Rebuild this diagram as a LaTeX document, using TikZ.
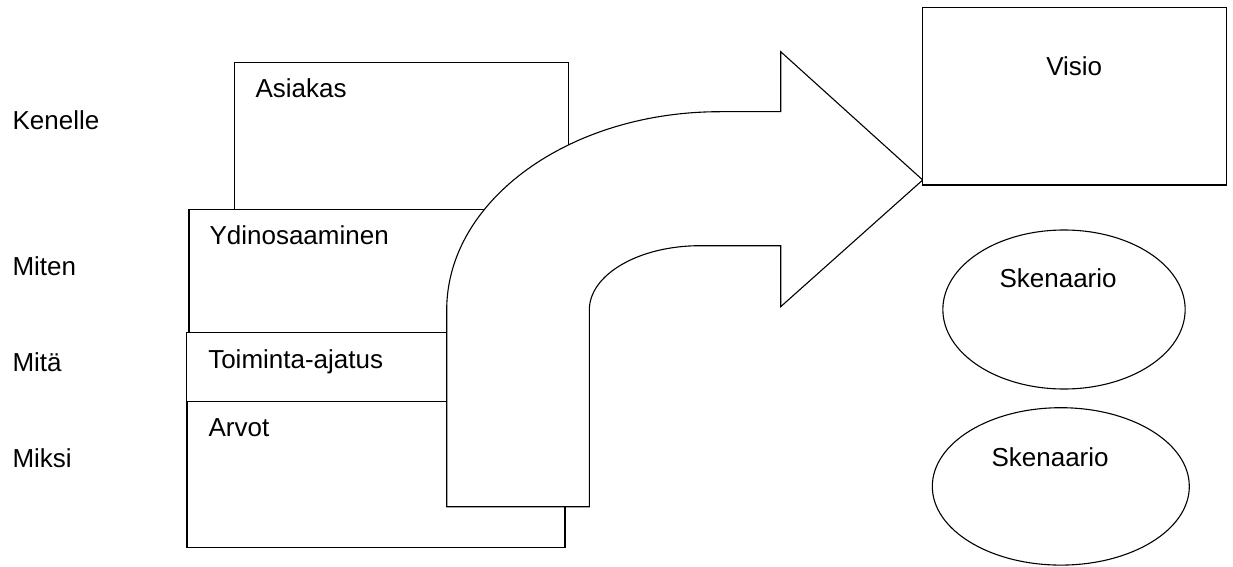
\documentclass[tikz,border=0pt]{standalone}
\usepackage{fontspec}
\setmainfont{Liberation Sans}
\usetikzlibrary{shapes.geometric}

\begin{document}
\begin{tikzpicture}[
x=1pt, y=-1pt,
line width=1.1pt,
lbl/.style={anchor=base west, inner sep=0pt, font=\fontsize{26}{31}\selectfont},
box/.style={draw, fill=white, anchor=north west, inner sep=0pt, outer sep=0pt},
oval/.style={draw, ellipse, inner sep=0pt},
]
\useasboundingbox (0,0) rectangle (1233,567);

\node[lbl] (kenelle) at (12,129) {Kenelle};
\node[lbl] (miten) at (12,275) {Miten};
\node[lbl] (mita) at (12,371) {Mitä};
\node[lbl] (miksi) at (12,467) {Miksi};

\node[box, minimum width=334pt, minimum height=146.6pt] (asiakasbox) at (234.3,62.7) {};
\node[box, minimum width=376pt, minimum height=123pt] (ydinbox) at (189,209.3) {};
\node[box, minimum width=378.3pt, minimum height=69.4pt] (toimintabox) at (186.7,332.3) {};
\node[box, minimum width=378pt, minimum height=146pt] (arvotbox) at (187,401.7) {};

\node[lbl] (asiakas) at (255,98) {Asiakas};
\node[lbl] (ydin) at (209,244) {Ydinosaaminen};
\node[lbl] (toiminta) at (207.7,368) {Toiminta-ajatus};
\node[lbl] (arvot) at (208,436.7) {Arvot};

\draw[fill=white] (446.7,506.7) -- (446.7,310)
.. controls (446.7,200.5) and (569,111.7) .. (720,111.7)
-- (780.7,111.7) -- (780.7,51.7) -- (922.7,180) -- (780.7,306.7)
-- (780.7,245.7) -- (700,245.7)
.. controls (638.9,245.7) and (589.3,274.5) .. (589.3,310)
-- (589.3,506.7) -- cycle;

\node[box, minimum width=304.4pt, minimum height=177.7pt] (visiobox) at (922.3,7.3) {};
\node[lbl] (visio) at (1045.7,76) {Visio};

\node[oval, minimum width=242.3pt, minimum height=159pt] (skenaario1) at (1064,309.5) {};
\node[oval, minimum width=257pt, minimum height=157.4pt] (skenaario2) at (1060.8,486.4) {};
\node[lbl] (sken1) at (999,287) {Skenaario};
\node[lbl] (sken2) at (991,466) {Skenaario};
\end{tikzpicture}
\end{document}
